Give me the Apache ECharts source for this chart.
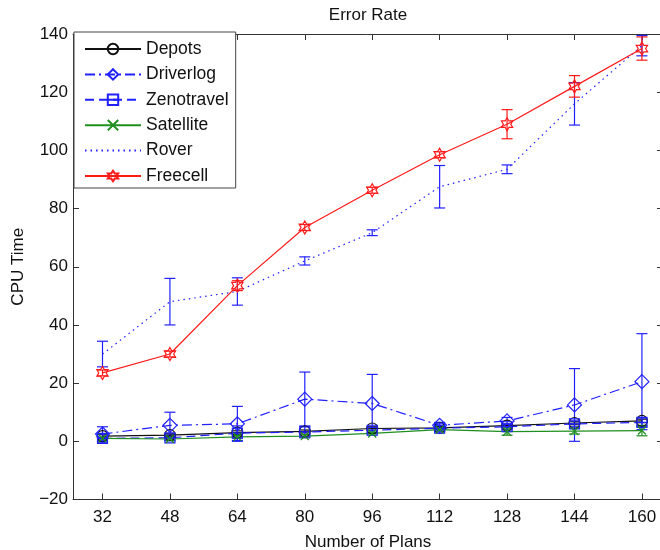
<!DOCTYPE html>
<html>
<head>
<meta charset="utf-8">
<script src="https://cdn.jsdelivr.net/npm/echarts@6/dist/echarts.min.js"></script>
<style>
html,body{margin:0;padding:0;background:#fff;}
#chart{width:660px;height:550px;}
</style>
</head>
<body>
<div id="chart"></div>
<script>
const plans = [32, 48, 64, 80, 96, 112, 128, 144, 160];
const depots = [1.8, 2.1, 3.0, 3.4, 4.4, 4.6, 5.4, 6.3, 7.0];
const depotsErr = [0.5, 0.5, 0.6, 0.5, 0.6, 0.5, 0.5, 0.6, 0.6];
const driverlog = [2.5, 5.5, 6.0, 14.5, 13.0, 5.5, 7.0, 12.5, 20.5];
const driverlogErr = [2.5, 4.5, 6.0, 9.3, 10.0, 1.0, 1.2, 12.5, 16.5];
const zenotravel = [1.0, 1.2, 2.8, 3.2, 3.8, 4.5, 5.0, 6.0, 6.5];
const zenotravelErr = [1.5, 1.0, 2.5, 2.0, 1.0, 1.0, 1.0, 1.0, 1.5];
const satellite = [1.0, 0.8, 1.5, 1.8, 2.7, 4.0, 3.3, 3.5, 3.7];
const satelliteErr = [0.5, 0.5, 0.5, 0.5, 0.5, 0.5, 1.2, 1.0, 1.8];
const rover = [30, 48, 51.5, 62, 71.7, 87.5, 93.5, 116, 136];
const roverErr = [4.4, 8, 4.7, 1.4, 1, 7.3, 1.5, 7.3, 3.5];
const freecell = [23.5, 30, 53.5, 73.5, 86.3, 98.5, 109, 122, 135];
const freecellErr = [1, 1, 1.7, 1, 1, 1, 5, 3.7, 4];
const yTicks = [-20, 0, 20, 40, 60, 80, 100, 120, 140];

const FONT = 'Liberation Sans, Arial, Helvetica, sans-serif';
const BLUE = '#2020ff', RED = '#ff1a1a', GREEN = '#1f8f1f', BLACK = '#111111';
const HEX = 'path://M0,-10L2.887,-5L8.66,-5L5.774,0L8.66,5L2.887,5L0,10L-2.887,5L-8.66,5L-5.774,0L-8.66,-5L-2.887,-5Z';
const SQ = 'path://M-5,-5L5,-5L5,5L-5,5ZM-5,0L5,0';
const XMARK = 'path://M-5,-5L5,5M-5,5L5,-5';

function errSeries(vals, errs, color) {
  return {
    type: 'custom',
    name: '_err',
    xAxisIndex: 0, yAxisIndex: 0,
    encode: { x: 0, y: [1, 2] },
    silent: true,
    renderItem: function (params, api) {
      const x = api.value(0);
      const p1 = api.coord([x, api.value(1)]);
      const p2 = api.coord([x, api.value(2)]);
      const w = 5.5;
      const st = { stroke: color, lineWidth: 1.2 };
      return {
        type: 'group',
        children: [
          { type: 'line', shape: { x1: p1[0], y1: p1[1], x2: p2[0], y2: p2[1] }, style: st },
          { type: 'line', shape: { x1: p1[0] - w, y1: p1[1], x2: p1[0] + w, y2: p1[1] }, style: st },
          { type: 'line', shape: { x1: p2[0] - w, y1: p2[1], x2: p2[0] + w, y2: p2[1] }, style: st }
        ]
      };
    },
    data: plans.map((p, i) => [p, vals[i] - errs[i], vals[i] + errs[i]])
  };
}

function lineSeries(name, vals, color, type, symbol, size) {
  return {
    type: 'line',
    name: name,
    data: plans.map((p, i) => [p, vals[i]]),
    symbol: symbol,
    symbolSize: size,
    symbolKeepAspect: true,
    showAllSymbol: true,
    lineStyle: { color: color, width: 1.2, type: type },
    itemStyle: { color: 'rgba(0,0,0,0)', borderColor: color, borderWidth: 1.2 },
    emphasis: { disabled: true }
  };
}

const series = [
  errSeries(depots, depotsErr, BLACK),
  lineSeries('Depots', depots, BLACK, 'solid', 'circle', 11),
  errSeries(driverlog, driverlogErr, BLUE),
  lineSeries('Driverlog', driverlog, BLUE, [10, 4, 2, 4], 'diamond', 14),
  errSeries(zenotravel, zenotravelErr, BLUE),
  lineSeries('Zenotravel', zenotravel, BLUE, [9, 5], SQ, 10),
  errSeries(satellite, satelliteErr, GREEN),
  lineSeries('Satellite', satellite, GREEN, 'solid', XMARK, 8),
  errSeries(rover, roverErr, BLUE),
  lineSeries('Rover', rover, BLUE, [1.5, 4], 'none', 0),
  errSeries(freecell, freecellErr, RED),
  lineSeries('Freecell', freecell, RED, 'solid', HEX, 13)
];

const axisLineStyle = { color: '#333', width: 1 };
const minusFmt = v => String(v).replace('-', '\u2212');

const option = {
  animation: false,
  backgroundColor: '#fff',
  title: {
    text: 'Error Rate',
    left: 368, textAlign: 'center',
    top: 7, padding: 0,
    textStyle: { fontFamily: FONT, fontSize: 17, fontWeight: 'normal', color: '#111' }
  },
  legend: {
    data: ['Depots', 'Driverlog', 'Zenotravel', 'Satellite',
      { name: 'Rover', itemStyle: { opacity: 0 } }, 'Freecell'],
    orient: 'vertical',
    left: 74, top: 32,
    padding: [8, 7, 3, 10],
    itemWidth: 56, itemHeight: 13, itemGap: 7.4,
    borderColor: '#444', borderWidth: 1,
    backgroundColor: '#fff',
    textStyle: { fontFamily: FONT, fontSize: 17.5, color: '#111', lineHeight: 17 },
    z: 20
  },
  grid: { left: 73, right: -3, top: 34, bottom: 50.5, containLabel: false, outerBoundsMode: 'none' },
  xAxis: [{
    type: 'value', min: 25, max: 165, position: 'bottom',
    name: 'Number of Plans', nameLocation: 'middle', nameGap: 34,
    nameTextStyle: { fontFamily: FONT, fontSize: 17, color: '#111' },
    axisLine: { show: true, onZero: false, lineStyle: axisLineStyle },
    axisTick: { show: true, inside: true, length: 6, customValues: plans, lineStyle: axisLineStyle },
    axisLabel: { customValues: plans, margin: 9, fontFamily: FONT, fontSize: 17, color: '#111' },
    splitLine: { show: false }
  }, {
    type: 'value', min: 25, max: 165, position: 'top',
    axisLine: { show: true, onZero: false, lineStyle: axisLineStyle },
    axisTick: { show: true, inside: true, length: 6, customValues: plans, lineStyle: axisLineStyle },
    axisLabel: { show: false },
    splitLine: { show: false }
  }],
  yAxis: [{
    type: 'value', min: -20, max: 140, interval: 20, position: 'left',
    name: 'CPU Time', nameLocation: 'middle', nameGap: 46,
    nameTextStyle: { fontFamily: FONT, fontSize: 17, color: '#111' },
    axisLine: { show: true, onZero: false, lineStyle: axisLineStyle },
    axisTick: { show: true, inside: true, length: 6, lineStyle: axisLineStyle },
    axisLabel: { margin: 5, fontFamily: FONT, fontSize: 17, color: '#111', formatter: minusFmt },
    splitLine: { show: false }
  }, {
    type: 'value', min: -20, max: 140, interval: 20, position: 'right',
    axisLine: { show: true, onZero: false, lineStyle: axisLineStyle },
    axisTick: { show: true, inside: true, length: 6, lineStyle: axisLineStyle },
    axisLabel: { show: false },
    splitLine: { show: false }
  }],
  series: series
};

const chart = echarts.init(document.getElementById('chart'), null, { renderer: 'canvas' });
chart.setOption(option);
</script>
</body>
</html>
